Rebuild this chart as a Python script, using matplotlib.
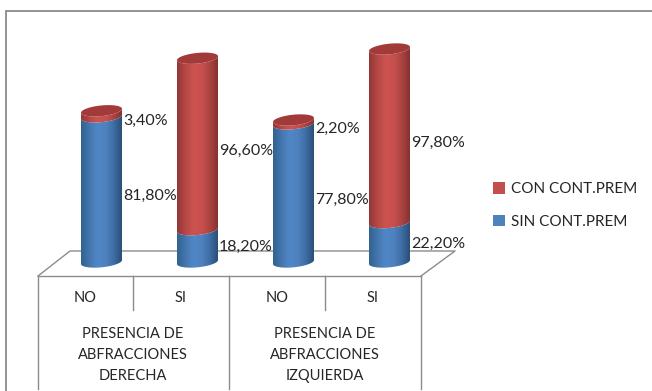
import numpy as np
import matplotlib.pyplot as plt
from matplotlib.colors import LinearSegmentedColormap
from matplotlib.patches import Patch, Polygon
from matplotlib.path import Path

plt.rcParams['font.family'] = ['Lato', 'DejaVu Sans']

# categories and series
side_labels = ['PRESENCIA DE\nABFRACCIONES\nDERECHA', 'PRESENCIA DE\nABFRACCIONES\nIZQUIERDA']
answers = ['NO', 'SI', 'NO', 'SI']
sin_cont = [81.8, 18.2, 77.8, 22.2]
con_cont = [3.4, 96.6, 2.2, 97.8]
sin_name = 'SIN CONT.PREM'
con_name = 'CON CONT.PREM'

W, H = 652, 391
X0, X_STEP = 101.5, 96.0   # pixel of first cylinder, pixels per category
Y0, Y_STEP = 262.0, 1.775  # pixel of 0 %, pixels per percent
RX, RY, TILT = 0.2135, 3.0, 1.1

BLUE = LinearSegmentedColormap.from_list('blue', ['#33628f', '#4476ae', '#5087c6', '#4e82c0', '#3f6fa5', '#2b4f78'])
RED = LinearSegmentedColormap.from_list('red', ['#933736', '#b54846', '#cb5350', '#c6504d', '#ad4442', '#843231'])
LINE = '#8c8c8c'
TEXT = '#262626'


def fmt(v):
    return f'{v:.2f}'.replace('.', ',') + '%'


def front_arc(cx, v, reverse=False):
    t = np.linspace(np.pi, 2 * np.pi, 40)
    if reverse:
        t = t[::-1]
    return np.column_stack([cx + RX * np.cos(t), v + RY * np.sin(t) + TILT * np.cos(t)])


def draw_side(ax, cx, lo, hi, cmap):
    # cylinder wall between two front arcs, filled with a horizontal gradient
    pts = np.vstack([front_arc(cx, lo), front_arc(cx, hi, reverse=True)])
    im = ax.imshow(np.linspace(0, 1, 64).reshape(1, -1), cmap=cmap, aspect='auto', vmin=0, vmax=1,
                   extent=(cx - RX, cx + RX, lo - 8, hi + 8), interpolation='bilinear', zorder=2)
    im.set_clip_path(Path(pts, closed=False), transform=ax.transData)


def draw_cap(ax, cx, v, color):
    t = np.linspace(0, 2 * np.pi, 80)
    pts = np.column_stack([cx + RX * np.cos(t), v + RY * np.sin(t) + TILT * np.cos(t)])
    ax.add_patch(Polygon(pts, closed=True, facecolor=color, edgecolor='none', zorder=3))


fig = plt.figure(figsize=(W / 100, H / 100), dpi=100, facecolor='white')

# pixel-space layer for the frame, the floor and the category table
base = fig.add_axes([0, 0, 1, 1], zorder=0)
base.set_xlim(0, W)
base.set_ylim(H, 0)
base.axis('off')

base.plot([6, 6, W], [H, 11, 11], color='#8a8a8a', lw=1.3, solid_joinstyle='miter')
base.plot([38, 70, 455, 421], [276, 251, 251, 276], color=LINE, lw=1)
base.plot([38, 421], [276, 276], color=LINE, lw=1)
for x in [38, 229, 421]:
    base.plot([x, x], [276, 389], color=LINE, lw=1)
for x in [133, 325]:
    base.plot([x, x], [276, 310], color=LINE, lw=1)

for i, name in enumerate(answers):
    base.text(85 + i * 96, 298, name, ha='center', va='center', fontsize=10.5, color=TEXT)
for i, name in enumerate(side_labels):
    base.text(133 + i * 192, 355, name, ha='center', va='center', fontsize=10.5, color=TEXT, linespacing=1.63)

# cylinders on a percent scale
ax = fig.add_axes([0, 0, 1, 1], zorder=1)
ax.patch.set_alpha(0)
ax.axis('off')

for i, (s, c) in enumerate(zip(sin_cont, con_cont)):
    draw_side(ax, i, 0, s, BLUE)
    draw_side(ax, i, s, s + c, RED)
    draw_cap(ax, i, s + c, '#a23a39')
    for bottom, v in ((0, s), (s, c)):
        mid = bottom + v / 2
        ax.annotate(fmt(v), (i + RX, mid), xytext=(0.7, -5 if mid > 30 else -1), textcoords='offset points',
                    ha='left', va='center', fontsize=11.5, color=TEXT, zorder=4)

ax.set_xlim(-X0 / X_STEP, (W - X0) / X_STEP)
ax.set_ylim((Y0 - H) / Y_STEP, Y0 / Y_STEP)

handles = [Patch(facecolor='#c0504d', label=con_name), Patch(facecolor='#4f81bd', label=sin_name)]
fig.legend(handles=handles, loc='center left', bbox_to_anchor=(493 / W, 1 - 205.5 / H), frameon=False,
           fontsize=11, labelcolor=TEXT, handlelength=0.8, handleheight=0.8, handletextpad=0.4,
           labelspacing=1.2, borderpad=0, borderaxespad=0)

fig.savefig('out.png', dpi=100)
